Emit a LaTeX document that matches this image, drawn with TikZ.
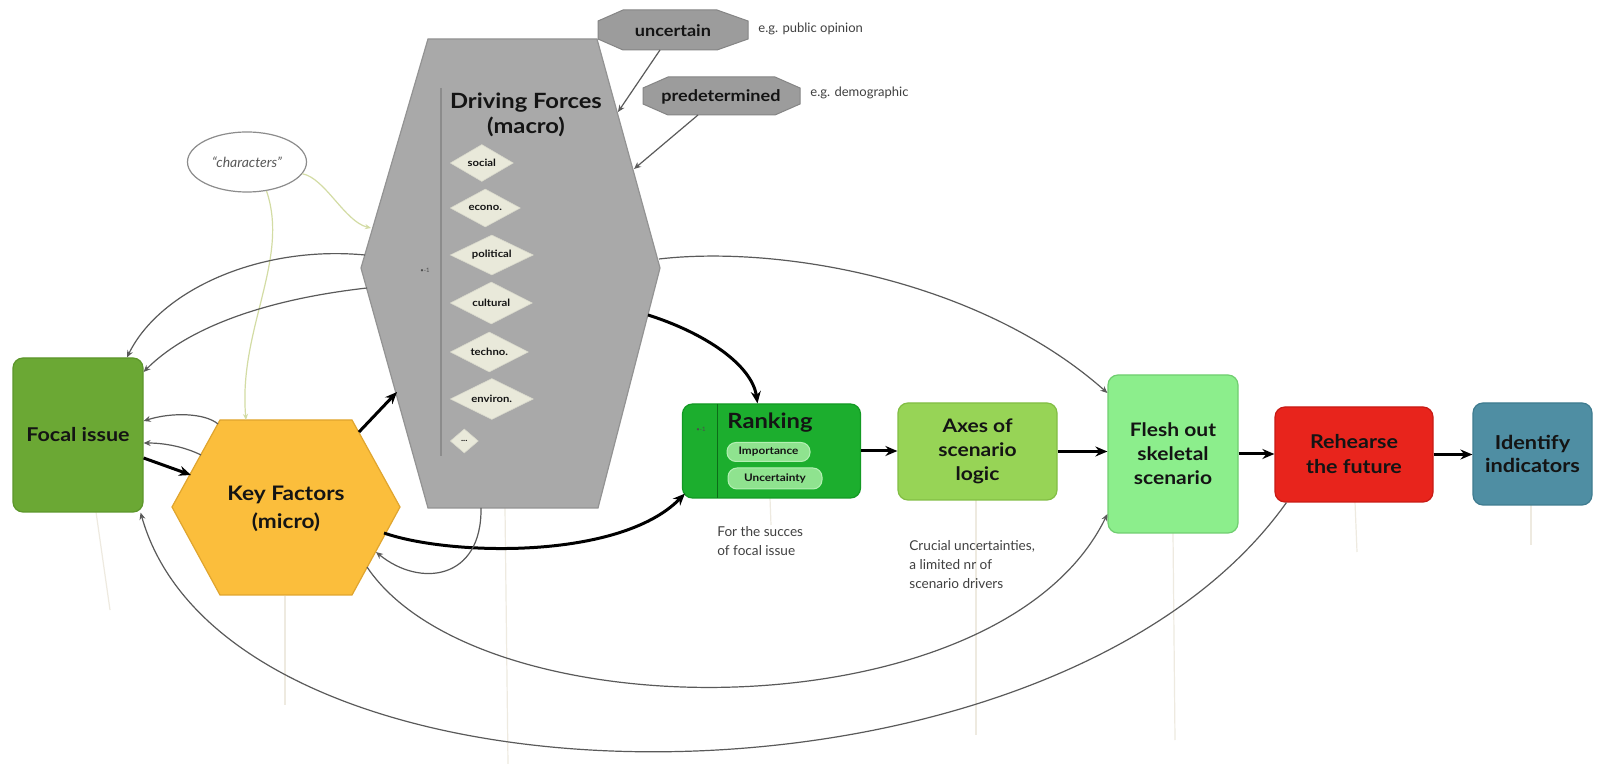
\documentclass[tikz,border=0pt]{standalone}
\usepackage{fontspec}
\setmainfont{Lato}[BoldFeatures={FakeStretch=1.13}]
\usetikzlibrary{arrows.meta,shapes.geometric}
\definecolor{dfgray}{HTML}{A9A9A9}
\definecolor{dfedge}{HTML}{939393}
\definecolor{octfill}{HTML}{9C9C9C}
\definecolor{octedge}{HTML}{858585}
\definecolor{diafill}{HTML}{E9E9DA}
\definecolor{focalc}{HTML}{6BA834}
\definecolor{focale}{HTML}{5C962A}
\definecolor{kfc}{HTML}{FBBE3C}
\definecolor{kfe}{HTML}{E0A52E}
\definecolor{rankc}{HTML}{1CAE2E}
\definecolor{ranke}{HTML}{139A24}
\definecolor{pillc}{HTML}{8FE38F}
\definecolor{pille}{HTML}{B4F0B4}
\definecolor{axesc}{HTML}{97D456}
\definecolor{axese}{HTML}{82BE44}
\definecolor{fleshc}{HTML}{8CEE8C}
\definecolor{fleshe}{HTML}{70CE70}
\definecolor{rehc}{HTML}{E8241C}
\definecolor{rehe}{HTML}{C81A14}
\definecolor{idc}{HTML}{4F8EA3}
\definecolor{ide}{HTML}{3F7C90}
\definecolor{faintc}{HTML}{EEEAE0}
\definecolor{charc}{HTML}{D3DCA4}
\definecolor{linec}{HTML}{5A5A5A}
\definecolor{txt}{HTML}{141414}
\begin{document}
\begin{tikzpicture}[x=0.5pt,y=-0.5pt,
  box/.style={rectangle, rounded corners=5pt, line width=0.6pt, align=center, text=txt,
    font=\bfseries\fontsize{9.5}{12}\selectfont, inner sep=0pt},
  thickarrow/.style={line width=1.5pt, draw=black, -{Stealth[length=6pt,width=5pt]}},
  thinarrow/.style={line width=0.6pt, draw=linec, -{Stealth[length=3.5pt,width=3pt]}},
  faintline/.style={draw=faintc, line width=0.6pt},
  charline/.style={draw=charc, line width=0.6pt, -{Stealth[length=3pt,width=2.5pt]}},
  dia/.style={diamond, aspect=1.7, fill=diafill, draw=diafill!85!gray, line width=0.3pt,
    inner sep=0pt, anchor=west, text=txt, font=\bfseries\fontsize{5}{6}\selectfont},
  pill/.style={rectangle, rounded corners=4.5pt, fill=pillc, draw=pille, line width=0.5pt,
    inner sep=0pt, text=txt, font=\bfseries\fontsize{5.2}{6}\selectfont},
  note/.style={anchor=north west, align=left, inner sep=0pt, text=black!75,
    font=\fontsize{6.8}{9.4}\selectfont},
  eg/.style={anchor=west, inner sep=0pt, text=black!75, font=\fontsize{6.5}{7}\selectfont},
  octlabel/.style={text=txt, font=\bfseries\fontsize{8}{9}\selectfont, inner sep=0pt}
]
\useasboundingbox[fill=white] (0,0) rectangle (1602,764);

% faint guide lines
\draw[faintline] (96,512) -- (110,610);
\draw[faintline] (285,596) -- (285,705);
\draw[faintline] (505,508) -- (508,764);
\draw[faintline] (770,498) -- (771,525);
\draw[faintline] (976,500) -- (976,735);
\draw[faintline] (1173,533) -- (1175,740);
\draw[faintline] (1355,502) -- (1357,552);
\draw[faintline] (1531,505) -- (1531,545);

% Driving forces hexagon
\coordinate (dfA) at (428,39);
\coordinate (dfB) at (597,39);
\coordinate (dfR) at (660,268);
\coordinate (dfC) at (598,508);
\coordinate (dfD) at (428,508);
\coordinate (dfL) at (361,268);
\filldraw[fill=dfgray, draw=dfedge, line width=0.6pt] (dfA) -- (dfB) -- (dfR) -- (dfC) -- (dfD) -- (dfL) -- cycle;
\draw[draw=black!45, line width=0.6pt] (441,88) -- (441,456);
\node[align=center, text=txt, inner sep=0pt, font=\bfseries\fontsize{10.5}{12.5}\selectfont] (dftitle) at (526,115) {Driving Forces\\(macro)};
\node[inner sep=0pt, text=black!70, font=\fontsize{3}{3}\selectfont] (dfmark) at (425,270) {•-1};
\node[dia, minimum width=31.5pt, minimum height=18.5pt] (dsoc) at (450,163) {social};
\node[dia, minimum width=35pt, minimum height=19pt] (deco) at (450,208) {econo.};
\node[dia, minimum width=41.5pt, minimum height=20pt] (dpol) at (450,255) {political};
\node[dia, minimum width=41pt, minimum height=21pt] (dcul) at (450,303) {cultural};
\node[dia, minimum width=39pt, minimum height=20pt] (dtec) at (450,352) {techno.};
\node[dia, minimum width=41.5pt, minimum height=20.5pt] (denv) at (450,399) {environ.};
\node[dia, minimum width=14pt, minimum height=12pt, font=\bfseries\fontsize{4}{5}\selectfont] (ddots) at (450,441) {...};

% octagons
\filldraw[fill=octfill, draw=octedge, line width=0.5pt] (623,10) -- (717,10) -- (748,21) -- (748,39) -- (717,50) -- (623,50) -- (598,39) -- (598,21) -- cycle;
\node[octlabel] (unc) at (673,31) {uncertain};
\filldraw[fill=octfill, draw=octedge, line width=0.5pt] (668,77) -- (775,77) -- (800,88) -- (800,104) -- (775,115) -- (668,115) -- (643,104) -- (643,88) -- cycle;
\node[octlabel] (pre) at (721,97) {predetermined};
\node[eg] (eg1) at (758,29) {e.g. public opinion};
\node[eg] (eg2) at (810,93) {e.g. demographic};
\coordinate (uncS) at (660,50);
\coordinate (preS) at (698,115);
\coordinate (dfR1) at (618,112);
\coordinate (dfR2) at (634,169);
\draw[thinarrow] (uncS) -- (dfR1);
\draw[thinarrow] (preS) -- (dfR2);

% characters
\node[ellipse, draw=black!45, line width=0.6pt, fill=white, minimum width=59.5pt, minimum height=30pt,
  inner sep=0pt, text=black!65, font=\itshape\fontsize{7}{8}\selectfont] (chars) at (247,162) {“characters”};

% Key factors hexagon
\coordinate (kfA) at (220,420);
\coordinate (kfB) at (352,420);
\coordinate (kfR) at (400,507);
\coordinate (kfC) at (352,595);
\coordinate (kfD) at (220,595);
\coordinate (kfL) at (172,507);
\filldraw[fill=kfc, draw=kfe, line width=0.6pt] (kfA) -- (kfB) -- (kfR) -- (kfC) -- (kfD) -- (kfL) -- cycle;
\node[align=center, text=txt, inner sep=0pt, font=\bfseries\fontsize{10}{14}\selectfont] (kf) at (286,509) {Key Factors\\(micro)};

% boxes
\node[box, fill=focalc, draw=focale, minimum width=65pt, minimum height=77pt] (focal) at (78,435) {Focal issue};
\node[box, fill=rankc, draw=ranke, minimum width=89pt, minimum height=47pt] (ranking) at (771.5,451) {};
\draw[draw=ranke!70!black, line width=0.5pt] (717,404) -- (717,498);
\node[inner sep=0pt, text=black!70, font=\fontsize{3}{3}\selectfont] (rkmark) at (701,429) {•-1};
\node[inner sep=0pt, text=txt, font=\bfseries\fontsize{10.5}{12}\selectfont] (rktitle) at (770,423) {Ranking};
\node[pill, minimum width=41.5pt, minimum height=9.5pt] (pimp) at (768.5,452) {Importance};
\node[pill, minimum width=47pt, minimum height=10.5pt] (punc) at (775,478.5) {Uncertainty};
\node[box, fill=axesc, draw=axese, minimum width=79.5pt, minimum height=48.5pt, font=\bfseries\fontsize{9.3}{12}\selectfont] (axes) at (977.5,451.5) {Axes of\\scenario\\logic};
\node[box, fill=fleshc, draw=fleshe, minimum width=65pt, minimum height=79pt, font=\bfseries\fontsize{9.3}{12}\selectfont] (flesh) at (1173,454) {Flesh out\\skeletal\\scenario};
\node[box, fill=rehc, draw=rehe, minimum width=79pt, minimum height=47.5pt, font=\bfseries\fontsize{9.5}{12.5}\selectfont] (reh) at (1354,454.5) {Rehearse\\the future};
\node[box, fill=idc, draw=ide, minimum width=59.5pt, minimum height=51pt, font=\bfseries\fontsize{9.6}{11.5}\selectfont] (ident) at (1532.5,454) {Identify\\indicators};

% notes
\node[note] (n1) at (717,526) {For the succes\\of focal issue};
\node[note] (n2) at (909,540) {Crucial uncertainties,\\a limited nr of\\scenario drivers};

% flow arrows
\draw[thickarrow] (ranking.east) -- (ranking.east -| axes.west);
\draw[thickarrow] (axes.east) -- (axes.east -| flesh.west);
\draw[thickarrow] (flesh.east) -- (flesh.east -| reh.west);
\draw[thickarrow] (reh.east) -- (reh.east -| ident.west);

% characters links
\coordinate (dfChar) at (371,228);
\coordinate (kfT1) at (246,420);
\draw[charline] (chars.-12) .. controls (325,178) and (345,222) .. (dfChar);
\draw[charline] (chars.-56) .. controls (290,260) and (238,330) .. (kfT1);

% driving forces -> focal issue
\coordinate (dfC1) at (365,255);
\coordinate (dfD1) at (367,288);
\draw[thinarrow] (dfC1) .. controls (260,245) and (160,290) .. ([shift={(49,0)}]focal.north);
\draw[thinarrow] (dfD1) .. controls (260,300) and (185,330) .. ([shift={(0,-63)}]focal.east);

% driving forces -> flesh out
\coordinate (dfE) at (659,259);
\draw[thinarrow] (dfE) .. controls (780,245) and (980,280) .. ([shift={(0,-61)}]flesh.west);

% driving forces -> ranking (thick)
\coordinate (dfF) at (648,315);
\draw[thickarrow] (dfF) .. controls (705,333) and (752,365) .. ([shift={(-14,0)}]ranking.north);

% focal -> key factors (thick)
\coordinate (kfG) at (191,475);
\draw[thickarrow] ([shift={(0,23)}]focal.east) -- (kfG);

% key factors -> driving forces (thick)
\coordinate (kfH) at (359,432);
\coordinate (dfH) at (397,392);
\draw[thickarrow] (kfH) -- (dfH);

% key factors -> ranking (thick curve)
\coordinate (kfI) at (384,533);
\draw[thickarrow] (kfI) .. controls (450,556) and (620,560) .. ([shift={(3,-5)}]ranking.south west);

% driving forces -> key factors
\coordinate (dfJ) at (481,508);
\coordinate (kfJ) at (376,552);
\draw[thinarrow] (dfJ) .. controls (482,580) and (420,588) .. (kfJ);

% key factors -> focal issue
\coordinate (kfK) at (218,424);
\coordinate (kfL2) at (201,455);
\draw[thinarrow] (kfK) .. controls (205,413) and (172,412) .. ([shift={(0,-14)}]focal.east);
\draw[thinarrow] (kfL2) .. controls (185,447) and (165,443) .. ([shift={(0,8)}]focal.east);

% key factors -> flesh out (bottom arc)
\coordinate (kfA2) at (367,567);
\draw[thinarrow] (kfA2) .. controls (480,735) and (1000,735) .. ([shift={(0,60)}]flesh.west);

% rehearse -> focal issue (big bottom arc)
\draw[thinarrow] ([shift={(12,0)}]reh.south west) .. controls (1050,835) and (230,830) .. ([shift={(-3,0)}]focal.south east);
\end{tikzpicture}
\end{document}
